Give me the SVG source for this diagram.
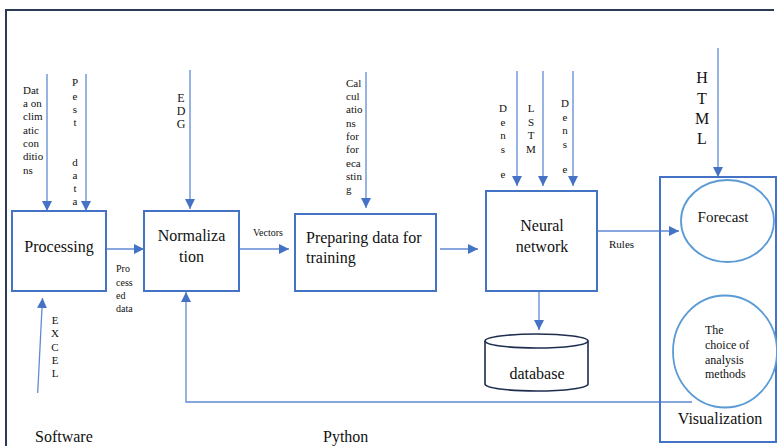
<svg xmlns="http://www.w3.org/2000/svg" width="777" height="446" viewBox="0 0 777 446">
<defs>
<marker id="ah" markerUnits="userSpaceOnUse" markerWidth="10" markerHeight="10" viewBox="0 0 10 10" refX="10" refY="5" orient="auto">
<path d="M0,0 L10,5 L0,10 Z" fill="#4472c4"/>
</marker>
<style>
.box{fill:#fff;stroke:#4472c4;stroke-width:2}
.ell{fill:#fff;stroke:#5b9bd5;stroke-width:1.8}
.arr{fill:none;stroke:#5f8ad3;stroke-width:1.3;marker-end:url(#ah)}
text{fill:#111}
.big{font-size:16px}
.mid{font-size:12px}
.sm{font-size:11px}
.xs{font-size:10px}
.c{text-anchor:middle}
</style>
</defs>
<rect width="777" height="446" fill="#fff"/>
<path d="M6,446 V10 H774" fill="none" stroke="#2b3a55" stroke-width="2"/>

<g id="connectors">
<path class="arr" d="M47,74 V211"/>
<path class="arr" d="M86,74 V211"/>
<path class="arr" d="M190,70 V209"/>
<path class="arr" d="M366,72 V208"/>
<path class="arr" d="M517,71 V186"/>
<path class="arr" d="M543,71 V186"/>
<path class="arr" d="M573,71 V186"/>
<path class="arr" d="M718,48 V177"/>
<path class="arr" d="M37.7,393 L42.5,298"/>
<path class="arr" d="M106,249 H144"/>
<path class="arr" d="M239,249 H289"/>
<path class="arr" d="M440,249 H478"/>
<path class="arr" d="M597,231 H679"/>
<path class="arr" d="M539,291 V330"/>
<path class="arr" d="M692,402 H186 V292"/>
</g>

<g font-family="Liberation Serif, DejaVu Serif, serif">
<g id="labels">
<text class="sm" x="23" y="94">Dat</text>
<text class="sm" x="23" y="107">a on</text>
<text class="sm" x="23" y="120">clim</text>
<text class="sm" x="23" y="134">atic</text>
<text class="sm" x="23" y="147">con</text>
<text class="sm" x="23" y="160">ditio</text>
<text class="sm" x="23" y="174">ns</text>
<text class="sm c" x="75" y="86">P</text>
<text class="sm c" x="75" y="100">e</text>
<text class="sm c" x="75" y="113">s</text>
<text class="sm c" x="75" y="126">t</text>
<text class="sm c" x="75" y="166">d</text>
<text class="sm c" x="75" y="179">a</text>
<text class="sm c" x="75" y="192">t</text>
<text class="sm c" x="75" y="205">a</text>
<text class="mid c" x="181" y="102">E</text>
<text class="mid c" x="181" y="115">D</text>
<text class="mid c" x="181" y="128">G</text>
<text class="sm" x="346" y="87">Cal</text>
<text class="sm" x="346" y="100">cul</text>
<text class="sm" x="346" y="113">atio</text>
<text class="sm" x="346" y="127">ns</text>
<text class="sm" x="346" y="140">for</text>
<text class="sm" x="346" y="153">for</text>
<text class="sm" x="346" y="167">eca</text>
<text class="sm" x="346" y="180">stin</text>
<text class="sm" x="346" y="193">g</text>
<text class="sm c" x="503" y="112">D</text>
<text class="sm c" x="503" y="126">e</text>
<text class="sm c" x="503" y="139">n</text>
<text class="sm c" x="503" y="153">s</text>
<text class="sm c" x="503" y="178">e</text>
<text class="sm c" x="531" y="112">L</text>
<text class="sm c" x="531" y="126">S</text>
<text class="sm c" x="531" y="139">T</text>
<text class="sm c" x="531" y="153">M</text>
<text class="sm c" x="565" y="107">D</text>
<text class="sm c" x="565" y="121">e</text>
<text class="sm c" x="565" y="134">n</text>
<text class="sm c" x="565" y="148">s</text>
<text class="sm c" x="565" y="173">e</text>
<text class="big c" x="702" y="83">H</text>
<text class="big c" x="702" y="104">T</text>
<text class="big c" x="702" y="124">M</text>
<text class="big c" x="702" y="144">L</text>
<text class="sm c" x="55" y="324">E</text>
<text class="sm c" x="55" y="337">X</text>
<text class="sm c" x="55" y="351">C</text>
<text class="sm c" x="55" y="364">E</text>
<text class="sm c" x="55" y="377">L</text>
<text class="xs" x="116" y="272">Pro</text>
<text class="xs" x="116" y="286">cess</text>
<text class="xs" x="116" y="299">ed</text>
<text class="xs" x="116" y="312">data</text>
<text class="xs" x="253" y="236">Vectors</text>
<text class="sm" x="609" y="248">Rules</text>
<text class="big" x="35" y="442">Software</text>
<text class="big" x="323" y="442">Python</text>
</g>

<g id="processing">
<rect class="box" x="12" y="211" width="94" height="80"/>
<text class="big c" x="59" y="252">Processing</text>
</g>
<g id="normalization">
<rect class="box" x="144" y="211" width="95" height="80"/>
<text class="big c" x="191.5" y="241">Normaliza</text>
<text class="big c" x="191.5" y="262">tion</text>
</g>
<g id="preparing">
<rect class="box" x="295" y="214" width="141" height="77"/>
<text class="big" x="306" y="243">Preparing data for</text>
<text class="big" x="306" y="263">training</text>
</g>
<g id="neural">
<rect class="box" x="486" y="191" width="111" height="100"/>
<text class="big c" x="542" y="231">Neural</text>
<text class="big c" x="542" y="252">network</text>
</g>
<g id="database">
<path d="M485,341 V384 A51.5,7 0 0 0 588,384 V341" fill="#fff" stroke="#1f2d4f" stroke-width="1.6"/>
<ellipse cx="536.5" cy="341" rx="51.5" ry="7" fill="#fff" stroke="#1f2d4f" stroke-width="1.6"/>
<text class="big c" x="537" y="379">database</text>
</g>
<g id="visualization">
<rect x="660" y="177" width="116" height="265" fill="none" stroke="#4472c4" stroke-width="2"/>
<text class="big c" x="720" y="424">Visualization</text>
</g>
<g id="forecast">
<ellipse class="ell" cx="727.5" cy="221" rx="46.5" ry="41"/>
<text class="c" style="font-size:15px" x="723" y="222">Forecast</text>
</g>
<g id="choice">
<ellipse class="ell" cx="725" cy="351.5" rx="52" ry="56"/>
<text class="mid" x="705" y="334">The</text>
<text class="mid" x="705" y="349">choice of</text>
<text class="mid" x="705" y="364">analysis</text>
<text class="mid" x="705" y="378">methods</text>
</g>
</g>
</svg>
